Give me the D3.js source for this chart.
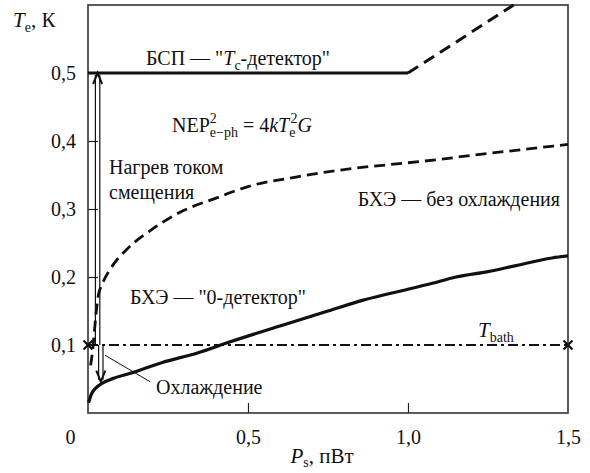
<!DOCTYPE html>
<html>
<head>
<meta charset="utf-8">
<script src="https://cdn.jsdelivr.net/npm/d3@7"></script>
<style>
  body { margin: 0; background: #fff; }
  svg text { font-family: "Times New Roman", "Liberation Serif", Tinos, "DejaVu Serif", "Noto Serif", serif; fill: #111; }
</style>
</head>
<body>
<div id="graph"></div>
<script>
// БСП: horizontal at Tc, then dashed rise
var bspSolidX = [0, 1.0];
var bspSolidY = [0.5, 0.5];
var bspDashX = [1.0, 1.33];
var bspDashY = [0.5, 0.6];

// БХЭ without cooling (dashed)
var noCoolX = [0.008, 0.014, 0.02, 0.026, 0.032, 0.045, 0.07, 0.12, 0.2, 0.3, 0.4, 0.5, 0.65, 0.8, 1.0, 1.1, 1.2, 1.35, 1.5];
var noCoolY = [0.07, 0.09, 0.12, 0.15, 0.172, 0.19, 0.212, 0.24, 0.27, 0.298, 0.316, 0.333, 0.347, 0.358, 0.368, 0.373, 0.379, 0.387, 0.395];

// БХЭ "0-детектор" (solid)
var zeroX = [0.002, 0.01, 0.025, 0.045, 0.08, 0.13, 0.23, 0.34, 0.44, 0.6, 0.75, 0.86, 1.0, 1.07, 1.15, 1.25, 1.33, 1.45, 1.5];
var zeroY = [0.015, 0.027, 0.037, 0.044, 0.051, 0.058, 0.074, 0.088, 0.104, 0.128, 0.15, 0.166, 0.182, 0.19, 0.2, 0.208, 0.216, 0.228, 0.231];

// bath temperature
var bathX = [0, 1.5];
var bathY = [0.1, 0.1];

var yTicks = [0.1, 0.2, 0.3, 0.4, 0.5];
var xTicks = [0, 0.5, 1.0, 1.5];

var w = 590, h = 473;
var mLeft = 88, mRight = 568, mTop = 5, mBottom = 413;

var svg = d3.select('#graph').append('svg').attr('width', w).attr('height', h);

var xScale = d3.scaleLinear().domain([0, 1.5]).range([mLeft, mRight]);
var yScale = d3.scaleLinear().domain([0, 0.6]).range([mBottom, mTop]);

var comma = function(d) { return d === 0 ? '0' : d3.format('.1f')(d).replace('.', ','); };

// axes with inward ticks
var yAxis = d3.axisLeft(yScale).tickValues(yTicks).tickSizeInner(-10).tickSizeOuter(0).tickPadding(12).tickFormat(comma);
var xAxis = d3.axisBottom(xScale).tickValues(xTicks).tickSizeInner(-10).tickSizeOuter(0).tickPadding(17).tickFormat(comma);

var gy = svg.append('g').attr('transform', `translate(${mLeft},0)`).call(yAxis);
var gx = svg.append('g').attr('transform', `translate(0,${mBottom})`).call(xAxis);
[gx, gy].forEach(function(g) {
  g.attr('font-family', null).attr('font-size', 20);
  g.select('.domain').remove();
  g.selectAll('line').attr('stroke', '#222').attr('stroke-width', 1.2);
  g.selectAll('text').attr('fill', '#111');
});
gx.selectAll('.tick').filter(d => d === 0).select('text').attr('dx', -18);
gx.selectAll('.tick').filter(d => d === 0 || d === 1.5).select('line').remove();

// frame
svg.append('rect')
  .attr('x', mLeft).attr('y', mTop)
  .attr('width', mRight - mLeft).attr('height', mBottom - mTop)
  .attr('fill', 'none').attr('stroke', '#333').attr('stroke-width', 1.6);

var line = d3.line().x(d => xScale(d[0])).y(d => yScale(d[1]));
var smooth = d3.line().x(d => xScale(d[0])).y(d => yScale(d[1])).curve(d3.curveMonotoneX);
var zip = (xs, ys) => xs.map((x, i) => [x, ys[i]]);

var plot = svg.append('g');

// T_bath dash-dot
plot.append('path').datum(zip(bathX, bathY)).attr('d', line)
  .attr('fill', 'none').attr('stroke', '#111').attr('stroke-width', 2)
  .attr('stroke-dasharray', '10,4,3,4');

// БСП
plot.append('path').datum(zip(bspSolidX, bspSolidY)).attr('d', line)
  .attr('fill', 'none').attr('stroke', '#111').attr('stroke-width', 3);
plot.append('path').datum(zip(bspDashX, bspDashY)).attr('d', line)
  .attr('fill', 'none').attr('stroke', '#111').attr('stroke-width', 3)
  .attr('stroke-dasharray', '12,7');

// БХЭ no cooling
plot.append('path').datum(zip(noCoolX, noCoolY)).attr('d', smooth)
  .attr('fill', 'none').attr('stroke', '#111').attr('stroke-width', 2.8)
  .attr('stroke-dasharray', '11,6');

// БХЭ 0-detector
plot.append('path').datum(zip(zeroX, zeroY)).attr('d', smooth)
  .attr('fill', 'none').attr('stroke', '#111').attr('stroke-width', 3.2);

// crosses at ends of T_bath
[0, 1.5].forEach(function(xv) {
  var cx = xScale(xv), cy = yScale(0.1), s = 4.5;
  plot.append('path')
    .attr('d', `M${cx - s},${cy - s}L${cx + s},${cy + s}M${cx - s},${cy + s}L${cx + s},${cy - s}`)
    .attr('stroke', '#111').attr('stroke-width', 2.2);
});

// hollow arrows
function hollowArrow(xv, y0, y1) {
  var cx = xScale(xv), a = yScale(y0), b = yScale(y1);
  var dir = b < a ? 1 : -1;
  var g = plot.append('g').attr('fill', 'none').attr('stroke', '#111');
  g.append('path')
    .attr('d', `M${cx - 2.2},${a}L${cx - 2.2},${b + dir * 2}M${cx + 2.2},${a}L${cx + 2.2},${b + dir * 2}`)
    .attr('stroke-width', 1.2);
  g.append('path')
    .attr('d', `M${cx - 4.5},${b + dir * 11}L${cx},${b}L${cx + 4.5},${b + dir * 11}`)
    .attr('stroke-width', 2);
}
hollowArrow(0.03, 0.1, 0.5);
hollowArrow(0.04, 0.1, 0.046);

// leader for Охлаждение
plot.append('path')
  .attr('d', line([[0.053, 0.085], [0.194, 0.046]]))
  .attr('stroke', '#111').attr('stroke-width', 1);

// texts
var fs = 20, sub = 14;
function label(x, y, anchor) {
  return svg.append('text').attr('x', x).attr('y', y).attr('font-size', fs)
    .attr('text-anchor', anchor || 'start');
}

// y title
var yt = label(13, 27).attr('font-size', 21);
yt.append('tspan').attr('font-style', 'italic').text('T');
yt.append('tspan').attr('font-size', sub).attr('dy', 5).text('e');
yt.append('tspan').attr('dy', -5).text(', К');

// x title
var xt = label(322, 463, 'middle').attr('font-size', 21);
xt.append('tspan').attr('font-style', 'italic').text('P');
xt.append('tspan').attr('font-size', sub).attr('dy', 4).text('s');
xt.append('tspan').attr('dy', -4).text(', пВт');

// БСП label
var b1 = label(238, yScale(0.5) - 8, 'middle');
b1.append('tspan').text('БСП — "');
b1.append('tspan').attr('font-style', 'italic').text('T');
b1.append('tspan').attr('font-size', sub).attr('dy', 5).text('c');
b1.append('tspan').attr('dy', -5).text('-детектор"');

// NEP formula
var nep = label(172, 132);
nep.append('tspan').text('NEP');
nep.append('tspan').attr('font-size', sub).attr('dy', -9).text('2');
nep.append('tspan').attr('font-size', sub).attr('dx', -7).attr('dy', 14).text('e−ph');
nep.append('tspan').attr('dy', -5).text(' = 4');
nep.append('tspan').attr('font-style', 'italic').text('k');
nep.append('tspan').attr('font-style', 'italic').text('T');
nep.append('tspan').attr('font-size', sub).attr('dy', 5).text('e');
nep.append('tspan').attr('font-size', sub).attr('dx', -5).attr('dy', -14).text('2');
nep.append('tspan').attr('font-style', 'italic').attr('dy', 9).text('G');

label(109, 174).text('Нагрев током');
label(109, 199).text('смещения');

label(560, 206, 'end').text('БХЭ — без охлаждения');
label(218, 304, 'middle').text('БХЭ — "0-детектор"');

var tb = label(478, 337).attr('font-size', 21);
tb.append('tspan').attr('font-style', 'italic').text('T');
tb.append('tspan').attr('font-size', sub).attr('dy', 5).text('bath');

label(156, 394).text('Охлаждение');
</script>
</body>
</html>
